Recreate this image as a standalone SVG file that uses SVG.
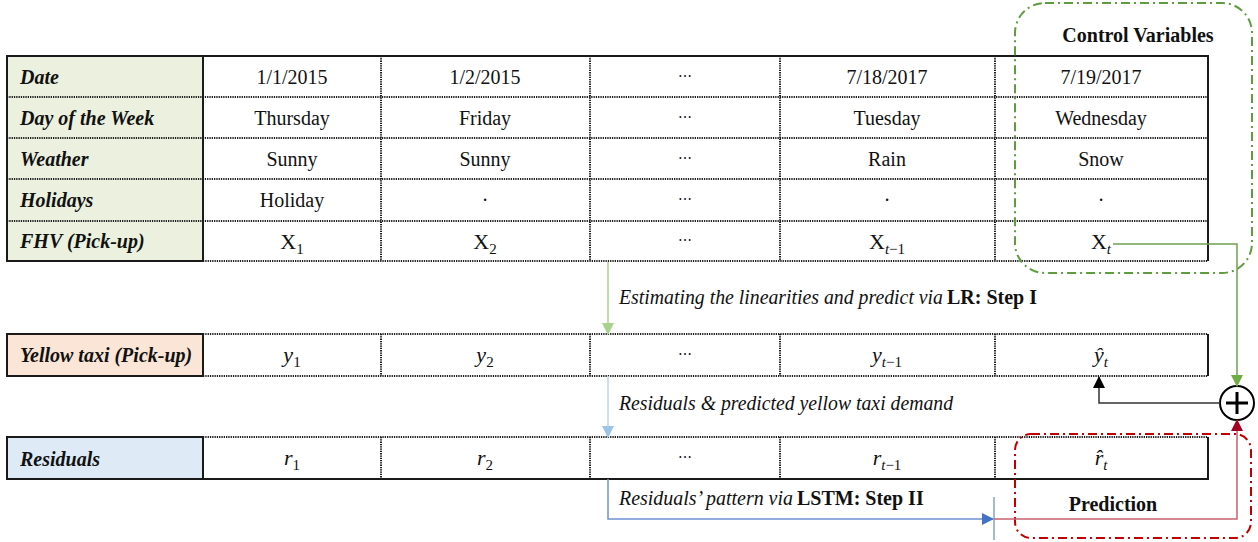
<svg xmlns="http://www.w3.org/2000/svg" width="1258" height="542" viewBox="0 0 1258 542">
  <style>
    .solid { stroke: #1a1a1a; stroke-width: 2; fill: none; }
    .dot { stroke: #1e1e1e; stroke-width: 2; stroke-dasharray: 1.3 1; fill: none; }
    .lbl { font-family: "Liberation Serif", "Times New Roman", serif; font-size: 20px; font-weight: bold; font-style: italic; fill: #111; }
    .cell { font-family: "Liberation Serif", "Times New Roman", serif; font-size: 20px; fill: #111; text-anchor: middle; }
    .math { font-family: "Liberation Serif", "Times New Roman", serif; font-size: 22px; font-style: italic; fill: #111; text-anchor: middle; }
    .upright { font-family: "Liberation Serif", "Times New Roman", serif; font-size: 22px; font-style: normal; fill: #111; text-anchor: middle; }
    .sub { font-size: 15px; font-style: normal; }
    .subi { font-size: 15px; font-style: italic; }
    .dots { font-family: "DejaVu Serif", serif; font-size: 14px; fill: #111; text-anchor: middle; }
    .note { font-family: "Liberation Serif", "Times New Roman", serif; font-size: 20px; font-style: italic; fill: #111; }
    .bold { font-family: "Liberation Serif", "Times New Roman", serif; font-size: 20px; font-weight: bold; fill: #111; }
    .title { font-family: "Liberation Serif", "Times New Roman", serif; font-size: 20px; font-weight: bold; fill: #111; text-anchor: middle; }
  </style>
  <defs>
    <marker id="arrLightGreen" markerUnits="userSpaceOnUse" markerWidth="12" markerHeight="12" viewBox="0 0 12 12" refX="11" refY="6" orient="auto">
      <path d="M0,0 L12,6 L0,12 z" fill="#A9D18E"/>
    </marker>
    <marker id="arrLightBlue" markerUnits="userSpaceOnUse" markerWidth="12" markerHeight="12" viewBox="0 0 12 12" refX="11" refY="6" orient="auto">
      <path d="M0,0 L12,6 L0,12 z" fill="#9DC3E6"/>
    </marker>
    <marker id="arrBlue" markerUnits="userSpaceOnUse" markerWidth="12" markerHeight="12" viewBox="0 0 12 12" refX="11" refY="6" orient="auto">
      <path d="M0,0 L12,6 L0,12 z" fill="#4472C4"/>
    </marker>
    <marker id="arrGreen" markerUnits="userSpaceOnUse" markerWidth="12" markerHeight="12" viewBox="0 0 12 12" refX="11" refY="6" orient="auto">
      <path d="M0,0 L12,6 L0,12 z" fill="#70AD47"/>
    </marker>
    <marker id="arrRed" markerUnits="userSpaceOnUse" markerWidth="12" markerHeight="12" viewBox="0 0 12 12" refX="11" refY="6" orient="auto">
      <path d="M0,0 L12,6 L0,12 z" fill="#A50021"/>
    </marker>
    <marker id="arrBlack" markerUnits="userSpaceOnUse" markerWidth="12" markerHeight="12" viewBox="0 0 12 12" refX="11" refY="6" orient="auto">
      <path d="M0,0 L12,6 L0,12 z" fill="#000"/>
    </marker>
  </defs>

  <rect width="1258" height="542" fill="#fff"/>

  <!-- Feature table: dates, calendar, weather, holidays, FHV pick-ups -->
  <g id="feature-table">
    <rect x="7" y="56" width="196" height="205" fill="#EBF1DE"/>
    <path class="dot" d="M7 97H1208M7 138H1208M7 179H1208M7 221H1208M203 261H1208"/>
    <path class="dot" d="M381 56V261M590 56V261M780 56V261M995 56V261"/>
    <rect class="solid" x="7" y="56" width="196" height="205"/>
    <path class="solid" d="M203 56H1208V261"/>
    <text class="lbl" x="20" y="84">Date</text>
    <text class="lbl" x="20" y="125">Day of the Week</text>
    <text class="lbl" x="20" y="166">Weather</text>
    <text class="lbl" x="20" y="207">Holidays</text>
    <text class="lbl" x="20" y="248">FHV (Pick-up)</text>

    <text class="cell" x="292" y="84">1/1/2015</text>
    <text class="cell" x="485" y="84">1/2/2015</text>
    <text class="dots" x="685" y="81">⋯</text>
    <text class="cell" x="887" y="84">7/18/2017</text>
    <text class="cell" x="1101" y="84">7/19/2017</text>

    <text class="cell" x="292" y="125">Thursday</text>
    <text class="cell" x="485" y="125">Friday</text>
    <text class="dots" x="685" y="122">⋯</text>
    <text class="cell" x="887" y="125">Tuesday</text>
    <text class="cell" x="1101" y="125">Wednesday</text>

    <text class="cell" x="292" y="166">Sunny</text>
    <text class="cell" x="485" y="166">Sunny</text>
    <text class="dots" x="685" y="163">⋯</text>
    <text class="cell" x="887" y="166">Rain</text>
    <text class="cell" x="1101" y="166">Snow</text>

    <text class="cell" x="292" y="207">Holiday</text>
    <text class="cell" x="485" y="207">·</text>
    <text class="dots" x="685" y="204">⋯</text>
    <text class="cell" x="887" y="207">·</text>
    <text class="cell" x="1101" y="207">·</text>

    <text class="upright" x="292" y="249">X<tspan class="sub" dy="5">1</tspan></text>
    <text class="upright" x="485" y="249">X<tspan class="sub" dy="5">2</tspan></text>
    <text class="dots" x="685" y="245">⋯</text>
    <text class="upright" x="887" y="249">X<tspan class="subi" dy="5">t</tspan><tspan class="sub">−1</tspan></text>
    <text class="upright" x="1101" y="249">X<tspan class="subi" dy="5">t</tspan></text>
  </g>

  <!-- Yellow taxi pick-ups -->
  <g id="yellow-taxi-row">
    <rect x="7" y="334" width="196" height="42" fill="#FBE5D6"/>
    <path class="dot" d="M203 334H1208M203 376H1208M381 334V376M590 334V376M780 334V376M995 334V376"/>
    <rect class="solid" x="7" y="334" width="196" height="42"/>
    <path class="solid" d="M1208 334V376"/>
    <text class="lbl" x="20" y="362">Yellow taxi (Pick-up)</text>
    <text class="math" x="292" y="362">y<tspan class="sub" dy="5">1</tspan></text>
    <text class="math" x="485" y="362">y<tspan class="sub" dy="5">2</tspan></text>
    <text class="dots" x="685" y="359">⋯</text>
    <text class="math" x="887" y="362">y<tspan class="subi" dy="5">t</tspan><tspan class="sub">−1</tspan></text>
    <text class="math" x="1101" y="362">ŷ<tspan class="subi" dy="5">t</tspan></text>
  </g>

  <!-- Residuals -->
  <g id="residuals-row">
    <rect x="7" y="437" width="196" height="42" fill="#DEEBF7"/>
    <path class="dot" d="M203 437H1208M381 437V479M590 437V479M780 437V479M995 437V479"/>
    <rect class="solid" x="7" y="437" width="196" height="42"/>
    <path class="solid" d="M203 479H1208V437"/>
    <text class="lbl" x="20" y="466">Residuals</text>
    <text class="math" x="292" y="465">r<tspan class="sub" dy="5">1</tspan></text>
    <text class="math" x="485" y="465">r<tspan class="sub" dy="5">2</tspan></text>
    <text class="dots" x="685" y="462">⋯</text>
    <text class="math" x="887" y="465">r<tspan class="subi" dy="5">t</tspan><tspan class="sub">−1</tspan></text>
    <text class="math" x="1101" y="465">r̂<tspan class="subi" dy="5">t</tspan></text>
  </g>

  <!-- Control variables grouping -->
  <g id="control-variables">
    <rect x="1015" y="3" width="237" height="270" rx="30" fill="none" stroke="#5E9C3F" stroke-width="2" stroke-dasharray="9 4 2 4"/>
    <text class="title" x="1138" y="42">Control Variables</text>
  </g>

  <!-- Prediction grouping -->
  <g id="prediction">
    <rect x="1015" y="434" width="236" height="104" rx="16" fill="none" stroke="#C00000" stroke-width="2" stroke-dasharray="9 4 2 4"/>
    <text class="title" x="1113" y="511">Prediction</text>
  </g>

  <!-- Summation node -->
  <g id="sum">
    <circle cx="1237" cy="403" r="17" fill="#fff" stroke="#000" stroke-width="2"/>
    <path d="M1226 403H1248M1237 392V414" stroke="#000" stroke-width="3"/>
  </g>

  <!-- Connectors -->
  <g id="connectors" fill="none">
    <path d="M608 262V334" stroke="#A9D18E" stroke-width="1.5" marker-end="url(#arrLightGreen)"/>
    <path d="M608 376V437" stroke="#BDD7EE" stroke-width="1.5" marker-end="url(#arrLightBlue)"/>
    <path d="M608 479V519H993" stroke="#6F93D2" stroke-width="1.5" marker-end="url(#arrBlue)"/>
    <path d="M994 497V540" stroke="#4472C4" stroke-width="1"/>
    <path d="M994 519H1237V420" stroke="#C9616F" stroke-width="1.5" marker-end="url(#arrRed)"/>
    <path d="M1113 244H1237V386" stroke="#6FA04F" stroke-width="1.5" marker-end="url(#arrGreen)"/>
    <path d="M1220 403H1099V377" stroke="#333" stroke-width="1.5" marker-end="url(#arrBlack)"/>
  </g>

  <!-- Connector labels -->
  <g id="connector-labels">
    <text class="note" x="619" y="304" textLength="324" lengthAdjust="spacingAndGlyphs">Estimating the linearities and predict via</text>
    <text class="bold" x="947" y="304">LR: Step I</text>
    <text class="note" x="619" y="410" textLength="334" lengthAdjust="spacingAndGlyphs">Residuals &amp; predicted yellow  taxi demand</text>
    <text class="note" x="619" y="505" textLength="174" lengthAdjust="spacingAndGlyphs">Residuals’ pattern via</text>
    <text class="bold" x="797" y="505">LSTM: Step II</text>
  </g>
</svg>
